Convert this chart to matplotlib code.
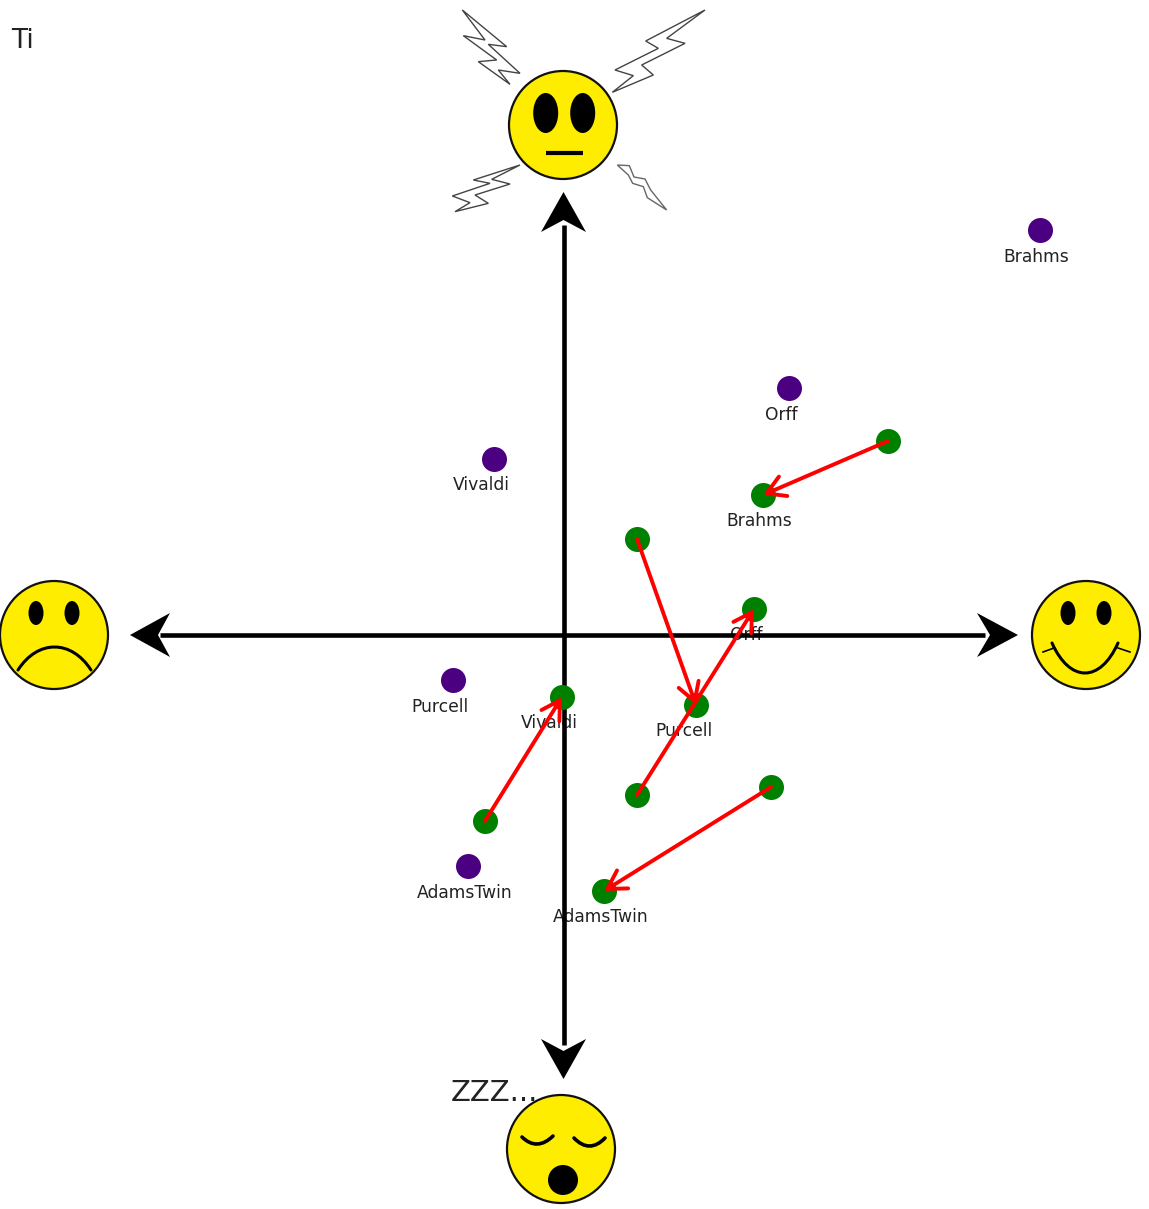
import numpy as np
import matplotlib
matplotlib.use("Agg")
import matplotlib.pyplot as plt
from matplotlib.patches import Circle, Ellipse, Polygon, PathPatch
from matplotlib.path import Path

# pieces and where they sit on the valence / arousal plane (1 unit = 100 px)
before_names = ["Brahms", "Orff", "Vivaldi", "Purcell", "AdamsTwin"]
before_x = [4.77, 2.26, -0.69, -1.10, -0.95]
before_y = [4.05, 2.47, 1.76, -0.45, -2.31]
before_label_dx = [-0.04, -0.08, -0.13, -0.13, -0.03]

after_names = ["Brahms", "Orff", "Vivaldi", "Purcell", "AdamsTwin"]
start_x = [3.25, 0.74, -0.78, 0.74, 2.08]
start_y = [1.94, -1.60, -1.86, 0.96, -1.52]
end_x = [2.00, 1.91, -0.01, 1.33, 0.41]
end_y = [1.40, 0.26, -0.62, -0.70, -2.56]
after_label_dx = [-0.04, -0.08, -0.13, -0.12, -0.03]

YELLOW = "#ffed00"
FACE_R = 54

fig = plt.figure(figsize=(11.49, 12.09), dpi=100)
ax = fig.add_axes([0, 0, 1, 1])
ax.set_xlim(-5.63, 5.86)
ax.set_ylim(-5.74, 6.35)
ax.axis("off")


def px(x, y):
    return (x - 563) / 100, (635 - y) / 100


def curve(a, mid, b, lw=2.2, inset=0.27):
    # arc through three picture points
    w = b[0] - a[0]
    lift = (mid[1] - (a[1] + b[1]) / 2) * 4 / 3
    c1 = (a[0] + inset * w, a[1] + lift)
    c2 = (b[0] - inset * w, b[1] + lift)
    p = Path([px(*a), px(*c1), px(*c2), px(*b)],
             [Path.MOVETO, Path.CURVE4, Path.CURVE4, Path.CURVE4])
    ax.add_patch(PathPatch(p, fc="none", ec="black", lw=lw, zorder=7, capstyle="round"))


def ellipse(x, y, w, h):
    ax.add_patch(Ellipse(px(x, y), w / 100, h / 100, fc="black", ec="none", zorder=7))


def face(x, y):
    ax.add_patch(Circle(px(x, y), FACE_R / 100, fc=YELLOW, ec="#111111", lw=1.6, zorder=6))


def bolt(ox, oy, points, ec="#444444", lw=1.0):
    pts = [px(ox + a / 3, oy + b / 3) for a, b in points]
    ax.add_patch(Polygon(pts, closed=True, fc="white", ec=ec, lw=lw, zorder=1))


def head(tip, left, notch, right):
    ax.add_patch(Polygon([px(*tip), px(*left), px(*notch), px(*right)], closed=True,
                         fc="black", ec="none", zorder=3))


# big axes
ax.plot(*zip(px(160, 635), px(985, 635)), color="black", lw=3.3, zorder=3, solid_capstyle="butt")
ax.plot(*zip(px(563.5, 225), px(563.5, 1045)), color="black", lw=3.3, zorder=3, solid_capstyle="butt")
head((1018, 635), (977, 613), (990, 635), (977, 657))
head((130, 635), (170, 613), (158, 635), (170, 657))
head((563.5, 192), (541, 232), (563.5, 220), (586, 232))
head((563.5, 1079), (541, 1039), (563.5, 1051), (586, 1039))

# tense face
bolt(455, 5, [(22, 15), (155, 125), (100, 118), (195, 205), (130, 195), (165, 238),
              (70, 170), (125, 165), (25, 92), (90, 105)])
bolt(605, 5, [(300, 15), (185, 100), (240, 115), (110, 180), (145, 210), (22, 262),
              (85, 212), (30, 195), (160, 130), (122, 108)])
bolt(445, 160, [(225, 15), (85, 60), (135, 70), (22, 108), (75, 128), (30, 155),
                (130, 130), (90, 105), (195, 72), (140, 58)])
bolt(610, 155, [(22, 30), (58, 32), (72, 66), (105, 72), (122, 105), (170, 165),
                (112, 128), (100, 95), (68, 85), (55, 60)], ec="#666666", lw=1.0)
face(563, 125)
ellipse(545.7, 113, 25, 40)
ellipse(582.7, 113, 25, 40)
ax.plot(*zip(px(546, 153), px(583, 153)), color="black", lw=3, zorder=7, solid_capstyle="butt")

# sad face
face(54, 635)
ellipse(36, 613, 15, 24)
ellipse(72, 613, 15, 24)
curve((18, 670), (54, 647), (91, 670))

# happy face
face(1086, 635)
ellipse(1068, 613, 15, 24)
ellipse(1104, 613, 15, 24)
curve((1052, 643), (1085, 673), (1118, 643))
ax.plot(*zip(px(1043, 652), px(1054, 648)), color="black", lw=1.2, zorder=7)
ax.plot(*zip(px(1118, 648), px(1130, 652)), color="black", lw=1.2, zorder=7)

# sleepy face
face(561, 1149)
curve((522, 1137), (538, 1144), (553, 1136), lw=2.6, inset=0.33)
curve((574, 1138), (590, 1146), (605, 1138), lw=2.6, inset=0.33)
ellipse(563, 1180, 30, 30)

# pieces
ax.scatter(before_x, before_y, s=324, color="#4b0082", linewidths=0, zorder=4)
for name, x, y, dx in zip(before_names, before_x, before_y, before_label_dx):
    ax.text(x + dx, y - 0.265, name, ha="center", va="center", fontsize=12.3, color="#222222", zorder=2)

ax.scatter(end_x, end_y, s=324, color="green", linewidths=0, zorder=4)
ax.scatter(start_x, start_y, s=324, color="green", linewidths=0, zorder=4)
for name, x, y, dx in zip(after_names, end_x, end_y, after_label_dx):
    ax.text(x + dx, y - 0.265, name, ha="center", va="center", fontsize=12.3, color="#222222", zorder=2)

for x0, y0, x1, y1 in zip(start_x, start_y, end_x, end_y):
    ax.annotate("", xy=(x1, y1), xytext=(x0, y0), zorder=5,
                arrowprops=dict(arrowstyle="->,head_length=0.65,head_width=0.38", color="red",
                                lw=2.8, shrinkA=0, shrinkB=0, mutation_scale=20))

ax.text(*px(11, 41), "Ti", ha="left", va="center", fontsize=19, color="#222222")
ax.text(*px(451, 1093), "ZZZ...", ha="left", va="center", fontsize=21, color="#222222", zorder=5)

fig.savefig("out.png", dpi=100)
